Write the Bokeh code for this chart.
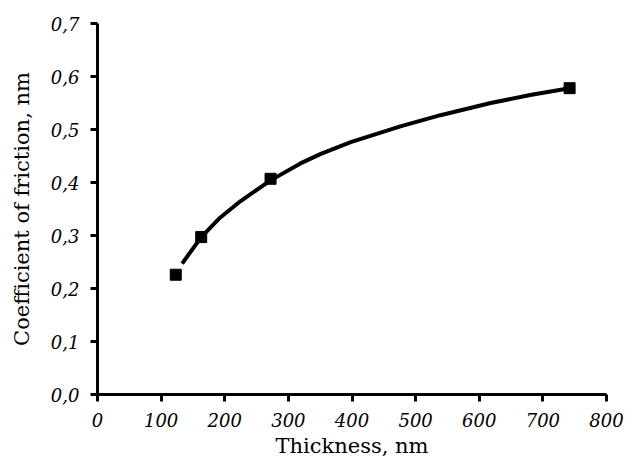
from bokeh.plotting import figure
from bokeh.models import FixedTicker, CustomJSTickFormatter, Range1d
from bokeh.embed import file_html
from bokeh.resources import INLINE

# measured points (thickness, nm ; coefficient of friction)
thickness = [123, 163, 272, 742]
friction = [0.226, 0.297, 0.407, 0.578]

# trend curve
curve_thickness = [133, 163, 193, 225, 256, 272, 319, 351, 398, 476, 539, 618, 680, 742]
curve_friction = [0.247, 0.297, 0.334, 0.365, 0.391, 0.404, 0.436, 0.454, 0.476, 0.506,
                  0.527, 0.550, 0.565, 0.578]

x_ticks = [0, 100, 200, 300, 400, 500, 600, 700, 800]
y_ticks = [0.0, 0.1, 0.2, 0.3, 0.4, 0.5, 0.6, 0.7]

p = figure(frame_width=509, frame_height=371,
           min_border_left=97, min_border_right=19, min_border_top=23, min_border_bottom=64,
           x_range=Range1d(0, 800), y_range=Range1d(0, 0.7),
           output_backend="svg", toolbar_location=None)

p.xgrid.visible = False
p.ygrid.visible = False
p.outline_line_color = None
p.background_fill_color = "white"
p.border_fill_color = "white"

p.line(curve_thickness, curve_friction, line_width=4, color="black", line_join="round")
p.scatter(thickness, friction, marker="square", size=11, color="black")

for ax in (p.xaxis[0], p.yaxis[0]):
    ax.axis_line_width = 3
    ax.axis_line_color = "black"
    ax.major_tick_line_width = 3
    ax.major_tick_line_color = "black"
    ax.major_tick_in = 0
    ax.major_tick_out = 7
    ax.minor_tick_line_color = None
    ax.major_label_text_font = "DejaVu Serif"
    ax.major_label_text_font_style = "italic"
    ax.major_label_text_font_size = "18px"
    ax.major_label_text_color = "black"
    ax.axis_label_text_font = "DejaVu Serif"
    ax.axis_label_text_font_style = "normal"
    ax.axis_label_text_font_size = "21px"
    ax.axis_label_text_color = "black"

p.xaxis.ticker = FixedTicker(ticks=x_ticks)
p.yaxis.ticker = FixedTicker(ticks=y_ticks)
p.yaxis.formatter = CustomJSTickFormatter(code="return tick.toFixed(1).replace('.', ',');")
p.xaxis.formatter = CustomJSTickFormatter(code="return tick.toFixed(0);")

p.xaxis.axis_label = "Thickness, nm"
p.yaxis.axis_label = "Coefficient of friction, nm"
p.xaxis.major_label_standoff = 11
p.yaxis.major_label_standoff = 11
p.xaxis.axis_label_standoff = 4
p.yaxis.axis_label_standoff = 14

open("out.html", "w").write(file_html(p, INLINE))
